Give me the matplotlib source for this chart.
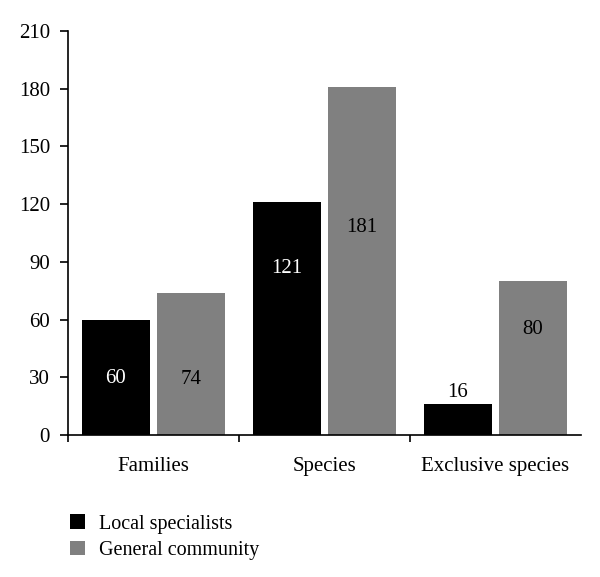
import matplotlib.pyplot as plt
import numpy as np

categories = ['Families', 'Species', 'Exclusive species']
local = [60, 121, 16]
general = [74, 181, 80]
# where the value labels sit (data units)
local_label_y = [29.6, 86.8, 22]
general_label_y = [28.6, 108, 54.6]
series_names = ['Local specialists', 'General community']
yticks = [0, 30, 60, 90, 120, 150, 180, 210]

plt.rcParams['font.family'] = ['Liberation Serif', 'DejaVu Serif']
plt.rcParams['font.size'] = 15

fig = plt.figure(figsize=(6, 5.77), dpi=100)
ax = fig.add_axes([68/600, 1-435/577, 513/600, 404/577])

x = np.arange(len(categories))
w = 0.4
b1 = ax.bar(x - 0.2 - 0.02, local, w, color='black', label=series_names[0])
b2 = ax.bar(x + 0.2 + 0.02, general, w, color='#808080', label=series_names[1])

for i in range(len(categories)):
    c = 'white' if local_label_y[i] < local[i] else 'black'
    ax.text(x[i] - 0.22, local_label_y[i], str(local[i]), ha='center', va='center', color=c, fontsize=15)
    ax.text(x[i] + 0.22, general_label_y[i], str(general[i]), ha='center', va='center', color='black', fontsize=15)

ax.set_xlim(-0.5, 2.5)
ax.set_ylim(0, 210)
ax.set_yticks(yticks)
ax.set_xticks([-0.5, 0.5, 1.5])
ax.set_xticklabels([])
ax.set_xticks(x, minor=True)
ax.set_xticklabels(categories, minor=True)
ax.tick_params(axis='x', which='minor', length=0, pad=16)
ax.tick_params(axis='x', which='major', length=5, width=1.2, direction='out')
ax.tick_params(axis='y', length=6, width=1.2, direction='out', pad=7)
ax.spines['top'].set_visible(False)
ax.spines['right'].set_visible(False)
ax.spines['left'].set_linewidth(1.2)
ax.spines['bottom'].set_linewidth(1.2)

fig.legend(handles=[b1, b2], loc='upper left', bbox_to_anchor=(52/600, 1-496/577),
           frameon=False, handlelength=0.75, handleheight=0.75, handletextpad=0.7,
           labelspacing=0.35, fontsize=14.5)

fig.savefig('out.png', dpi=100)
